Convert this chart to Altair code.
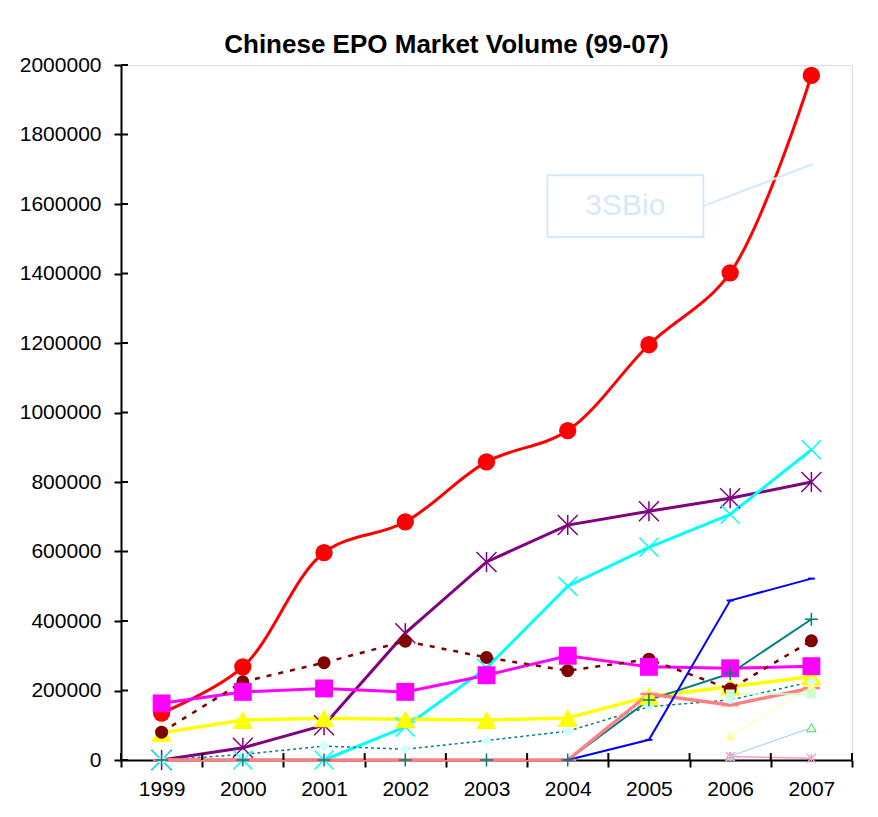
import altair as alt
import pandas as pd

years = [1999, 2000, 2001, 2002, 2003, 2004, 2005, 2006, 2007]

red_s      = [135000, 268000, 597000, 685000, 858000, 948000, 1195000, 1402000, 1970000]
purple_s   = [0, 35000, 100000, 365000, 570000, 676000, 716000, 753000, 800000]
cyan_s     = [0, 0, 0, 95000, 265000, 500000, 612000, 707000, 893000]
magenta_s  = [163000, 196000, 206000, 196000, 244000, 300000, 268000, 264000, 270000]
darkred_s  = [80000, 225000, 280000, 342000, 295000, 257000, 290000, 204000, 343000]
yellow_s   = [78000, 115000, 120000, 117000, 115000, 121000, 183000, 211000, 240000]
tealdot_s  = [0, 16000, 40000, 31000, 56000, 83000, 153000, 173000, 225000]
salmon_s   = [0, 0, 0, 0, 0, 0, 190000, 158000, 207000]
blue_s     = [None, None, None, None, None, 0, 58000, 459000, 522000]
teal_s     = [0, 0, 0, 0, 0, 0, 173000, 249000, 405000]
lyellow_s  = [None, None, None, None, None, None, None, 70000, 212000]
lgreen_s   = [None, None, None, None, None, None, None, 190000, 190000]
lblue_s    = [None, None, None, None, None, None, None, 11000, 93000]
pink_s     = [None, None, None, None, None, None, None, 10000, 5000]

y_ticks = [0, 200000, 400000, 600000, 800000, 1000000, 1200000, 1400000, 1600000, 1800000, 2000000]
x_bounds = [1998.5, 1999.5, 2000.5, 2001.5, 2002.5, 2003.5, 2004.5, 2005.5, 2006.5, 2007.5]

callout_text = "3SBio"
callout_box_x = [2003.75, 2005.67]
callout_box_y = [1505000, 1683000]
callout_target = [2007.02, 1715000]

FONT = "Liberation Sans, Arial, Helvetica, sans-serif"
ASTER = "M-1,-1L1,1M-1,1L1,-1M0,-1L0,1"
XMARK = "M-1,-1L1,1M-1,1L1,-1"
PLUS = "M-1,0L1,0M0,-1L0,1"
DASH = "M-1,0L1,0"

# (name, values, line style, marker style)
series = [
    ("red", red_s, dict(color="#FF0000", strokeWidth=3, interpolate="catmull-rom"),
     dict(shape="circle", filled=True, color="#FF0000", size=300)),
    ("purple", purple_s, dict(color="#800080", strokeWidth=3),
     dict(shape=ASTER, filled=False, color="#800080", strokeWidth=1.5, size=400)),
    ("cyan", cyan_s, dict(color="#00FFFF", strokeWidth=3),
     dict(shape=XMARK, filled=False, color="#00FFFF", strokeWidth=1.5, size=361)),
    ("magenta", magenta_s, dict(color="#FF00FF", strokeWidth=3),
     dict(shape="square", filled=True, color="#FF00FF", size=320)),
    ("yellow", yellow_s, dict(color="#FFFF00", strokeWidth=3.5),
     dict(shape="triangle-up", filled=True, color="#FFFF00", size=420)),
    ("darkred", darkred_s, dict(color="#800000", strokeWidth=2.5, strokeDash=[5, 7]),
     dict(shape="circle", filled=True, color="#800000", size=170)),
    ("tealdot", tealdot_s, dict(color="#008080", strokeWidth=1.5, strokeDash=[3, 3]),
     dict(shape="diamond", filled=True, color="#CCFFFF", size=110)),
    ("teal", teal_s, dict(color="#008080", strokeWidth=2),
     dict(shape=PLUS, filled=False, color="#008080", strokeWidth=1.5, size=169)),
    ("salmon", salmon_s, dict(color="#FF8080", strokeWidth=3.5),
     dict(shape=DASH, filled=False, color="#FF8080", strokeWidth=2.5, size=289)),
    ("blue", blue_s, dict(color="#0000FF", strokeWidth=2),
     dict(shape=DASH, filled=False, color="#0000FF", strokeWidth=2, size=49)),
    ("lyellow", lyellow_s, dict(color="#FFFF99", strokeWidth=1),
     dict(shape="triangle-up", filled=True, color="#FFFF99", size=110)),
    ("lgreen", lgreen_s, dict(color="#CCFFCC", strokeWidth=1.5),
     dict(shape="square", filled=True, color="#CCFFCC", size=81)),
    ("lblue", lblue_s, dict(color="#99CCFF", strokeWidth=1),
     dict(shape="triangle-up", filled=True, fill="#FFFF99", stroke="#33CCCC", strokeWidth=1, size=90)),
    ("pink", pink_s, dict(color="#FF99CC", strokeWidth=1.5),
     dict(shape=ASTER, filled=False, color="#FF99CC", strokeWidth=1.2, size=81)),
]

xs = alt.Scale(domain=[1998.5, 2007.5], nice=False, zero=False)
ys = alt.Scale(domain=[0, 2000000], nice=False)

xaxis = alt.Axis(
    values=x_bounds, title=None, grid=False,
    labelExpr="datum.value < 2007 ? '' + (datum.value + 0.5) : ''",
    labelOffset=40.6, labelFlush=False, labelOverlap=False,
    tickSize=7, tickWidth=2, tickColor="black",
    domainWidth=2, domainColor="black",
    labelFont=FONT, labelFontSize=21, labelColor="black", labelPadding=11,
)
yaxis = alt.Axis(
    values=y_ticks, title=None, grid=False, format="d",
    tickSize=7, tickWidth=2, tickColor="black",
    domainWidth=2, domainColor="black",
    labelFont=FONT, labelFontSize=21, labelColor="black", labelPadding=13,
    labelOverlap=False,
)


def X(f):
    return alt.X(f, scale=xs, axis=xaxis)


def Y(f):
    return alt.Y(f, scale=ys, axis=yaxis)


def frame(vals):
    df = pd.DataFrame({"year": years, "value": vals})
    return df.dropna()


layers = []
for name, vals, ls, ms in series:
    layers.append(alt.Chart(frame(vals)).mark_line(**ls).encode(x=X("year:Q"), y=Y("value:Q")))

point_order = ["red", "purple", "cyan", "yellow", "darkred", "magenta", "tealdot",
               "salmon", "blue", "teal", "lyellow", "lgreen", "lblue", "pink"]
lookup = {s[0]: s for s in series}
for name in point_order:
    _, vals, ls, ms = lookup[name]
    layers.append(alt.Chart(frame(vals)).mark_point(opacity=1, **ms).encode(x=X("year:Q"), y=Y("value:Q")))

# inward halves of the crossing tick marks
xt = pd.DataFrame({"x": x_bounds, "y0": [0] * len(x_bounds), "y1": [20000] * len(x_bounds)})
layers.append(alt.Chart(xt).mark_rule(color="black", strokeWidth=2).encode(
    x=X("x:Q"), y=Y("y0:Q"), y2="y1:Q"))
yt = pd.DataFrame({"y": y_ticks, "x0": [1998.5] * len(y_ticks), "x1": [1998.586] * len(y_ticks)})
layers.append(alt.Chart(yt).mark_rule(color="black", strokeWidth=2).encode(
    y=Y("y:Q"), x=X("x0:Q"), x2="x1:Q"))

# callout
box = pd.DataFrame({"x1": [callout_box_x[0]], "x2": [callout_box_x[1]],
                    "y1": [callout_box_y[0]], "y2": [callout_box_y[1]]})
layers.append(alt.Chart(box).mark_rect(fill="white", fillOpacity=0, stroke="#D6E9FB", strokeWidth=2).encode(
    x=X("x1:Q"), x2="x2:Q", y=Y("y1:Q"), y2="y2:Q"))
lead = pd.DataFrame({"x1": [callout_box_x[1]], "y1": [(callout_box_y[0] + callout_box_y[1]) / 2],
                     "x2": [callout_target[0]], "y2": [callout_target[1]]})
layers.append(alt.Chart(lead).mark_rule(color="#D6E9FB", strokeWidth=2).encode(
    x=X("x1:Q"), x2="x2:Q", y=Y("y1:Q"), y2="y2:Q"))
lab = pd.DataFrame({"x": [(callout_box_x[0] + callout_box_x[1]) / 2],
                    "y": [(callout_box_y[0] + callout_box_y[1]) / 2], "t": [callout_text]})
layers.append(alt.Chart(lab).mark_text(font=FONT, fontSize=30, color="#D6E9FB", align="center",
                                        baseline="middle").encode(
    x=X("x:Q"), y=Y("y:Q"), text="t:N"))

chart = alt.layer(*layers).properties(
    width=731, height=695,
    title=alt.TitleParams("Chinese EPO Market Volume (99-07)", font=FONT, fontSize=26,
                          fontWeight="bold", color="black", anchor="middle", frame="group",
                          dx=-40, dy=12, offset=8),
    autosize=alt.AutoSizeParams(type="none"),
    padding={"left": 113, "top": 57, "right": 10, "bottom": 44},
).configure_view(stroke=None).configure(background="white")

chart.save("out.html", embed_options={"renderer": "svg", "actions": False})
